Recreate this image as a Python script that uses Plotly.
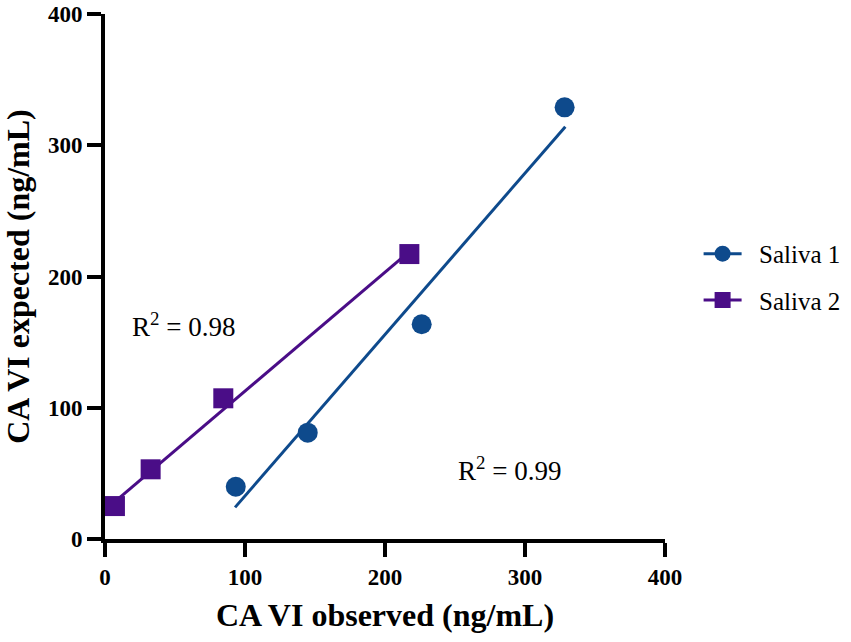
# CA VI expected vs observed - Saliva 1 y Saliva 2
import plotly.graph_objects as go

# Saliva 1
s1_obs = [93.4, 144.8, 226.2, 328.3]
s1_exp = [39.8, 81.0, 163.6, 328.9]
s1_fit_x = [92.9, 328.8]
s1_fit_y = [24.1, 314.1]

# Saliva 2
s2_obs = [7.1, 32.6, 84.5, 217.4]
s2_exp = [25.1, 53.1, 107.2, 217.1]
s2_fit_x = [7.1, 217.4]
s2_fit_y = [28.5, 219.0]

ticks = [0, 100, 200, 300, 400]

azul = "#0e4a8c"
violeta = "#4a0d87"
fuente = "Liberation Serif"

fig = go.Figure()

# lineas de regresion
fig.add_trace(go.Scatter(x=s1_fit_x, y=s1_fit_y, mode="lines", line=dict(color=azul, width=3),
                         showlegend=False, hoverinfo="skip"))
fig.add_trace(go.Scatter(x=s2_fit_x, y=s2_fit_y, mode="lines", line=dict(color=violeta, width=3),
                         showlegend=False, hoverinfo="skip"))

# puntos
fig.add_trace(go.Scatter(x=s1_obs, y=s1_exp, mode="markers", name="Saliva 1", showlegend=False,
                         marker=dict(symbol="circle", size=20, color=azul)))
fig.add_trace(go.Scatter(x=s2_obs, y=s2_exp, mode="markers", name="Saliva 2", showlegend=False,
                         marker=dict(symbol="square", size=20, color=violeta)))

# entradas de leyenda (linea + marcador, sin datos)
fig.add_trace(go.Scatter(x=[None], y=[None], mode="lines+markers", name="\u00a0\u00a0Saliva 1",
                         line=dict(color=azul, width=3), marker=dict(symbol="circle", size=20, color=azul),
                         legend="legend"))
fig.add_trace(go.Scatter(x=[None], y=[None], mode="lines+markers", name="\u00a0\u00a0Saliva 2",
                         line=dict(color=violeta, width=3), marker=dict(symbol="square", size=20, color=violeta),
                         legend="legend2"))

fig.add_annotation(x=56, y=163, text="R<sup>2</sup> = 0.98", showarrow=False,
                   font=dict(family=fuente, size=27, color="black"))
fig.add_annotation(x=289, y=53, text="R<sup>2</sup> = 0.99", showarrow=False,
                   font=dict(family=fuente, size=27, color="black"))

eje = dict(range=[0, 400], tickvals=ticks, showgrid=False, zeroline=False, automargin=False,
           showline=True, linecolor="black", linewidth=4, ticklabeloverflow="allow",
           ticks="outside", ticklen=14, tickwidth=4, tickcolor="black",
           tickfont=dict(family=fuente, size=23, color="black", weight="bold"))

fig.update_xaxes(**eje, title=dict(text="CA VI observed (ng/mL)", standoff=16,
                                   font=dict(family=fuente, size=32, color="black", weight="bold")))
fig.update_yaxes(**eje, title=dict(text="CA VI expected (ng/mL)", standoff=14,
                                   font=dict(family=fuente, size=32, color="black", weight="bold")))

leyenda = dict(xanchor="left", yanchor="middle", x=1.06, bgcolor="rgba(0,0,0,0)", itemwidth=38,
               font=dict(family=fuente, size=25, color="black"), itemsizing="trace")
fig.update_layout(
    width=851, height=642,
    font=dict(family=fuente, color="black"),
    margin=dict(l=105, r=186, t=14, b=103, autoexpand=False),
    plot_bgcolor="white", paper_bgcolor="white",
    legend=dict(**leyenda, y=0.543),
    legend2=dict(**leyenda, y=0.455),
)

# quitar el margen por defecto del body
fig.write_html("out.html", config={"displayModeBar": False},
               post_script="document.body.style.margin='0';")
